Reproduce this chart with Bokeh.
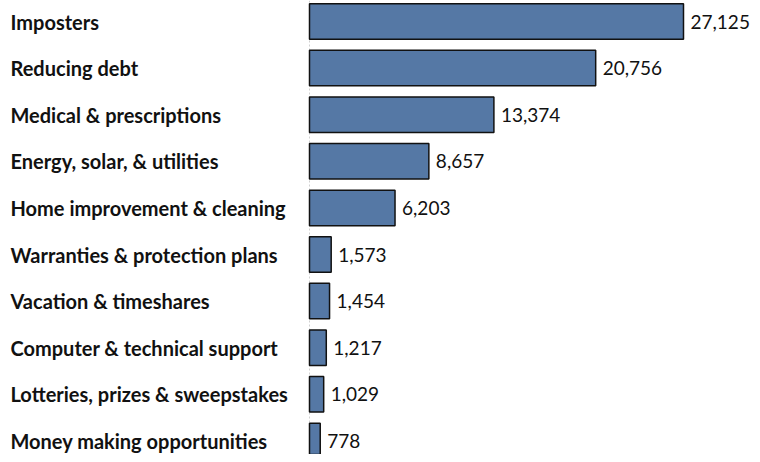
from bokeh.plotting import figure
from bokeh.models import Range1d, Span, ColumnDataSource
from bokeh.core.properties import value
from bokeh.embed import file_html
from bokeh.resources import INLINE

categories = [
    "Imposters",
    "Reducing debt",
    "Medical & prescriptions",
    "Energy, solar, & utilities",
    "Home improvement & cleaning",
    "Warranties & protection plans",
    "Vacation & timeshares",
    "Computer & technical support",
    "Lotteries, prizes & sweepstakes",
    "Money making opportunities",
]
values = [27125, 20756, 13374, 8657, 6203, 1573, 1454, 1217, 1029, 778]
value_labels = [f"{v:,}" for v in values]

W, H = 752, 454
bar0 = 309                   # pixel where bars start
ppu = 374 / 27125.0          # pixels per unit
x_start = -bar0 / ppu
x_end = (W - bar0) / ppu
row_px = 46.6
top_off = 21.0
y_top = -top_off / row_px
y_bot = y_top + H / row_px

idx = list(range(len(categories)))
src = ColumnDataSource(dict(y=idx, v=values, cat=categories, lab=value_labels,
                            lx=[x_start] * len(idx)))

p = figure(width=W, height=H, output_backend="svg", toolbar_location=None,
           x_range=Range1d(x_start, x_end), y_range=Range1d(y_bot, y_top),
           min_border=0, outline_line_color=None)
p.axis.visible = False
p.grid.visible = False
p.background_fill_color = "white"
p.border_fill_color = "white"

p.add_layout(Span(location=0, dimension="height", line_color="#d0d0d0",
                  line_width=1, line_dash="2 2", level="underlay"))

p.hbar(y="y", left=0, right="v", height=0.762, source=src,
       fill_color="#5578A5", line_color="#111111", line_width=1.5)

p.text(x="lx", y="y", text="cat", source=src, x_offset=10,
       text_font=value("Lato"), text_font_style="bold", text_font_size="20px",
       text_color="#111111", text_align="left", text_baseline="middle")

p.text(x="v", y="y", text="lab", source=src, x_offset=7,
       text_font=value("Lato"), text_font_size="19px",
       text_color="#111111", text_align="left", text_baseline="middle")

open("out.html", "w").write(file_html(p, INLINE))
